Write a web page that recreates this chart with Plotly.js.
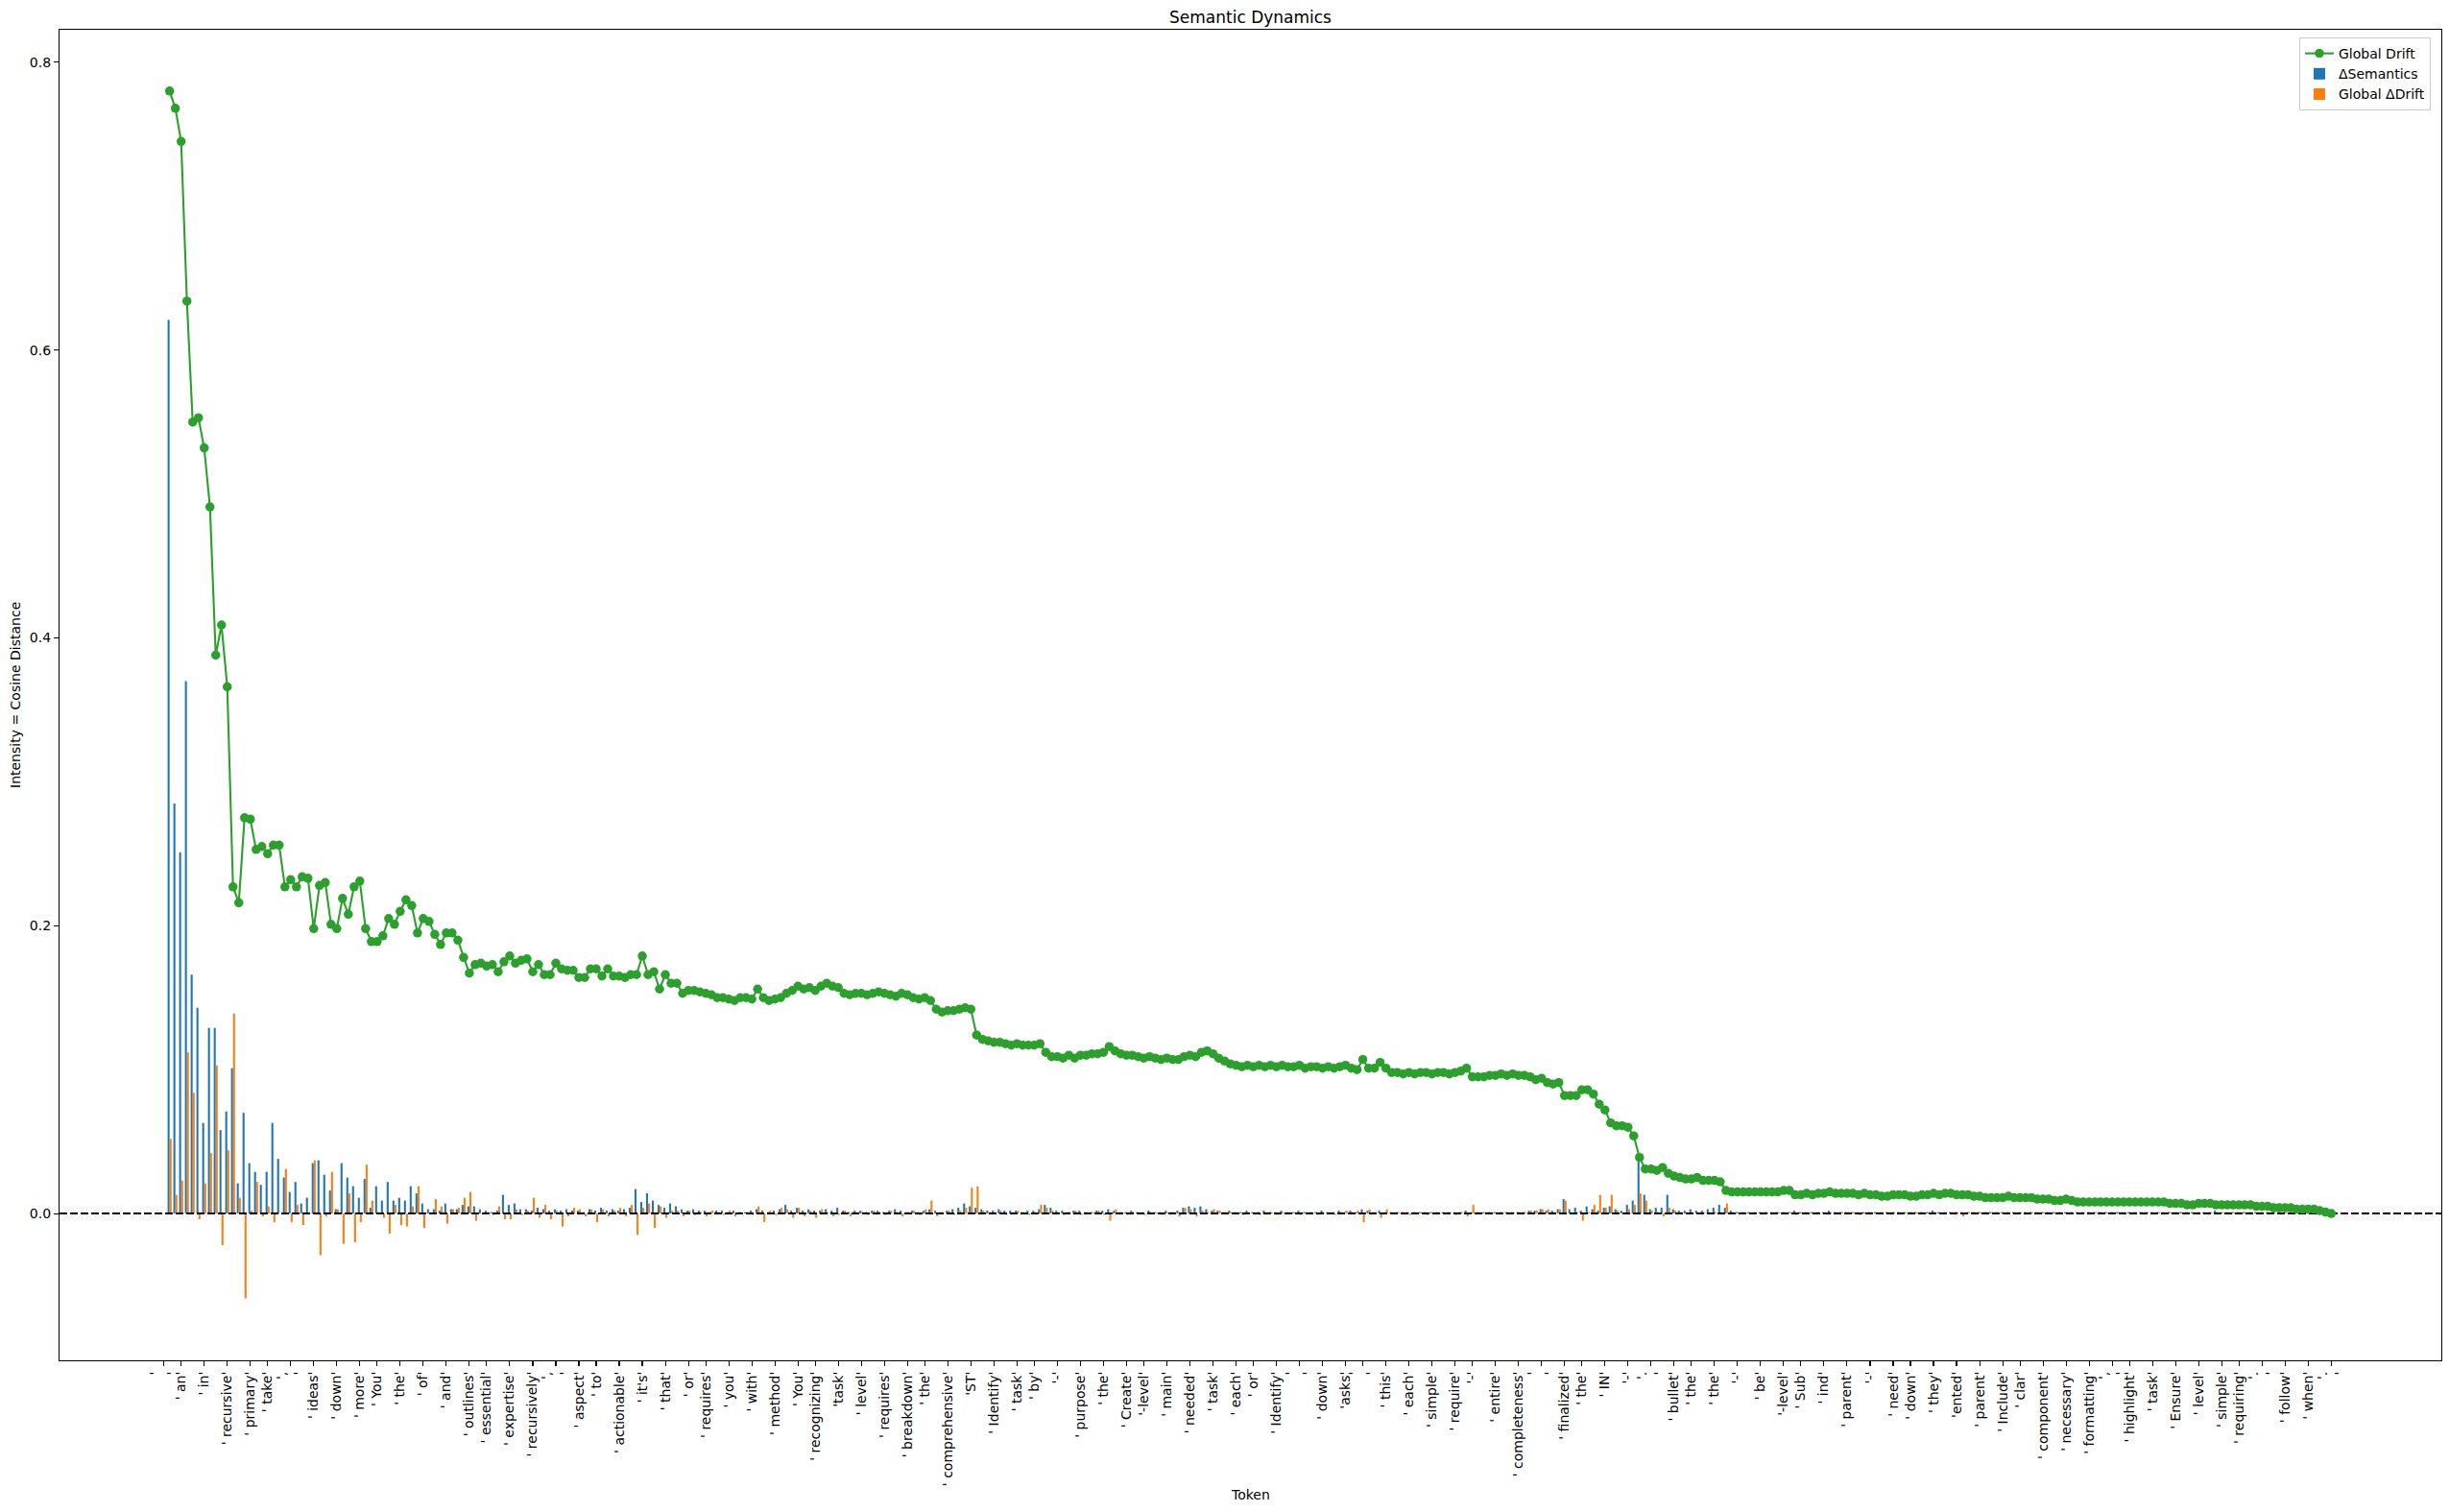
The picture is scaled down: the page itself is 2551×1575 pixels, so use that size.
<!DOCTYPE html>
<html><head><meta charset="utf-8">
<script src="https://cdn.plot.ly/plotly-3.0.1.min.js"></script>
<style>html,body{margin:0;padding:0;background:#fff}#chart{width:2551px;height:1575px}</style>
</head><body><div id="chart"></div>
<script>
// Tick labels (token strings, shown in quotes); "\n" renders as a second line
const tickLabels = ["\n"," an"," in"," recursive"," primary"," take",",\n"," ideas"," down"," more",
" You"," the"," of"," and"," outlines"," essential"," expertise"," recursively",",\n"," aspect",
" to"," actionable"," it's"," that"," or"," requires"," you"," with"," method"," You",
" recognizing","task"," level"," requires"," breakdown"," the"," comprehensive","ST"," Identify"," task",
" by","-"," purpose"," the"," Create","-level"," main"," needed"," task"," each",
" or"," Identify","\n"," down","asks","\n"," this"," each"," simple"," require",
"-"," entire"," completeness","\n"," finalized"," the"," IN","-",".\n"," bullet",
" the"," the","-"," be","-level"," Sub"," ind"," parent","-"," need",
" down"," they","ented"," parent"," Include"," clar"," component"," necessary"," formatting",",\n",
" highlight"," task"," Ensure"," level"," simple"," requiring",".\n"," follow"," when",".\n"];

const N_TOKENS = 377;

const globalDrift = [
0.780,0.768,0.745,0.634,0.550,0.553,0.532,0.491,0.388,0.409,0.366,0.227,0.216,0.275,0.274,0.253,0.255,0.250,0.256,0.256,
0.227,0.232,0.227,0.234,0.233,0.198,0.228,0.230,0.201,0.198,0.219,0.208,0.227,0.231,0.198,0.189,0.189,0.193,0.205,0.201,
0.210,0.218,0.214,0.195,0.205,0.203,0.194,0.187,0.195,0.195,0.190,0.178,0.167,0.173,0.174,0.172,0.173,0.168,0.175,0.179,
0.174,0.176,0.177,0.168,0.173,0.166,0.166,0.174,0.170,0.169,0.169,0.164,0.164,0.170,0.170,0.165,0.170,0.165,0.165,0.164,
0.166,0.166,0.179,0.166,0.168,0.156,0.166,0.160,0.160,0.153,0.155,0.155,0.154,0.153,0.152,0.150,0.150,0.149,0.148,0.150,
0.150,0.149,0.156,0.150,0.148,0.149,0.150,0.153,0.155,0.158,0.156,0.157,0.155,0.158,0.160,0.158,0.157,0.153,0.152,0.153,
0.153,0.152,0.153,0.154,0.153,0.152,0.151,0.153,0.152,0.150,0.149,0.150,0.148,0.142,0.140,0.141,0.141,0.142,0.143,0.142,
0.124,0.121,0.120,0.119,0.119,0.118,0.117,0.118,0.117,0.117,0.117,0.118,0.112,0.109,0.109,0.108,0.110,0.108,0.110,0.110,
0.111,0.111,0.112,0.116,0.113,0.111,0.110,0.110,0.109,0.108,0.109,0.108,0.107,0.108,0.107,0.107,0.109,0.110,0.109,0.112,
0.113,0.111,0.108,0.106,0.104,0.103,0.102,0.103,0.102,0.103,0.102,0.103,0.102,0.103,0.102,0.102,0.103,0.101,0.102,0.102,
0.101,0.102,0.101,0.102,0.103,0.101,0.100,0.107,0.101,0.101,0.105,0.101,0.098,0.098,0.097,0.098,0.097,0.098,0.098,0.097,
0.098,0.098,0.097,0.098,0.099,0.101,0.095,0.095,0.095,0.096,0.096,0.097,0.096,0.097,0.096,0.096,0.095,0.093,0.094,0.091,
0.090,0.091,0.082,0.082,0.082,0.086,0.086,0.083,0.076,0.072,0.063,0.061,0.061,0.060,0.054,0.039,0.031,0.031,0.030,0.032,
0.028,0.026,0.025,0.024,0.024,0.025,0.023,0.023,0.023,0.022,0.016,0.015,0.015,0.015,0.015,0.015,0.015,0.015,0.015,0.015,
0.016,0.016,0.013,0.013,0.014,0.013,0.014,0.014,0.015,0.014,0.014,0.014,0.014,0.013,0.014,0.013,0.013,0.012,0.012,0.013,
0.013,0.013,0.012,0.012,0.013,0.013,0.014,0.013,0.014,0.014,0.013,0.013,0.013,0.012,0.012,0.011,0.011,0.011,0.011,0.012,
0.011,0.011,0.011,0.011,0.010,0.010,0.010,0.009,0.009,0.010,0.009,0.008,0.008,0.008,0.008,0.008,0.008,0.008,0.008,0.008,
0.008,0.008,0.008,0.008,0.008,0.008,0.008,0.007,0.007,0.007,0.006,0.006,0.007,0.007,0.007,0.006,0.006,0.006,0.006,0.006,
0.006,0.006,0.005,0.005,0.005,0.004,0.004,0.004,0.004,0.003,0.003,0.003,0.003,0.002,0.001,0.000];

const deltaSemantics = [
0.621,0.285,0.251,0.370,0.166,0.143,0.063,0.129,0.129,0.058,0.071,0.101,0.021,0.070,0.035,0.029,0.020,0.029,0.063,0.038,
0.025,0.015,0.022,0.007,0.011,0.035,0.037,0.027,0.016,0.003,0.035,0.025,0.019,0.011,0.024,0.004,0.019,0.009,0.022,0.009,
0.011,0.009,0.019,0.014,0.007,0.003,0.003,0.002,0.007,0.003,0.003,0.006,0.005,0.005,0.003,0.002,0.001,0.002,0.013,0.006,
0.007,0.003,0.003,0.002,0.004,0.003,0.002,0.003,0.002,0.003,0.002,0.002,0.001,0.003,0.002,0.004,0.002,0.003,0.002,0.003,
0.004,0.017,0.008,0.014,0.009,0.006,0.004,0.007,0.005,0.003,0.002,0.003,0.002,0.002,0.001,0.002,0.002,0.001,0.002,0.001,
0.001,0.002,0.003,0.002,0.001,0.002,0.003,0.006,0.002,0.004,0.002,0.003,0.002,0.002,0.003,0.002,0.004,0.002,0.001,0.002,
0.002,0.001,0.002,0.002,0.001,0.002,0.003,0.002,0.001,0.002,0.001,0.002,0.003,0.002,0.001,0.002,0.003,0.004,0.007,0.005,
0.004,0.003,0.002,0.002,0.003,0.002,0.002,0.002,0.001,0.002,0.002,0.003,0.006,0.004,0.002,0.002,0.001,0.002,0.002,0.001,
0.001,0.002,0.002,0.003,0.002,0.001,0.001,0.002,0.001,0.001,0.002,0.001,0.001,0.002,0.001,0.002,0.004,0.005,0.004,0.005,
0.003,0.002,0.002,0.001,0.002,0.001,0.001,0.002,0.001,0.001,0.002,0.001,0.001,0.002,0.001,0.001,0.002,0.001,0.001,0.001,
0.002,0.001,0.001,0.002,0.001,0.002,0.001,0.003,0.002,0.001,0.002,0.001,0.001,0.001,0.001,0.001,0.001,0.001,0.001,0.001,
0.001,0.001,0.001,0.001,0.001,0.002,0.001,0.001,0.001,0.001,0.001,0.001,0.001,0.001,0.001,0.001,0.002,0.002,0.003,0.002,
0.002,0.003,0.010,0.003,0.004,0.002,0.005,0.003,0.002,0.004,0.005,0.003,0.002,0.006,0.009,0.036,0.013,0.003,0.004,0.004,
0.013,0.003,0.002,0.002,0.003,0.002,0.002,0.003,0.004,0.006,0.004,0.002,0.001,0.001,0.001,0.001,0.001,0.001,0.001,0.001,
0.001,0.001,0.002,0.001,0.001,0.001,0.001,0.001,0.002,0.001,0.001,0.001,0.001,0.001,0.001,0.001,0.001,0.001,0.001,0.001,
0.001,0.001,0.001,0.001,0.001,0.001,0.002,0.001,0.001,0.001,0.001,0.001,0.001,0.001,0.001,0.001,0.001,0.001,0.001,0.001,
0.001,0.001,0.001,0.001,0.001,0.001,0.001,0.001,0.001,0.001,0.001,0.001,0.001,0.001,0.001,0.001,0.001,0.001,0.001,0.001,
0.001,0.001,0.001,0.001,0.001,0.001,0.001,0.001,0.001,0.001,0.001,0.001,0.001,0.001,0.001,0.002,0.001,0.001,0.001,0.001,
0.001,0.001,0.001,0.001,0.001,0.001,0.001,0.001,0.001,0.001,0.001,0.001,0.001,0.001,0.001,0.001];

const globalDeltaDrift = [
0.052,0.013,0.023,0.112,0.084,-0.004,0.021,0.042,0.103,-0.022,0.044,0.139,0.011,-0.059,0.002,0.022,-0.002,0.005,-0.006,0.000,
0.031,-0.006,0.006,-0.008,0.000,0.037,-0.029,-0.002,0.029,0.003,-0.021,0.014,-0.020,-0.006,0.034,0.009,0.001,-0.003,-0.014,0.006,
-0.008,-0.009,0.005,0.019,-0.010,0.000,0.010,0.005,-0.007,0.003,0.004,0.011,0.015,-0.005,0.000,0.001,-0.001,0.005,-0.004,-0.004,
0.003,-0.001,0.002,0.011,-0.003,0.006,-0.004,0.002,-0.009,-0.002,0.004,0.003,-0.002,0.003,-0.006,0.003,-0.002,0.002,0.004,-0.002,
0.006,-0.015,0.004,0.007,-0.010,0.005,-0.003,0.002,0.002,-0.002,0.002,-0.001,0.001,-0.002,0.002,0.001,-0.001,0.002,-0.002,0.001,
0.001,-0.001,0.005,-0.006,0.002,-0.001,0.004,0.003,-0.003,0.004,-0.002,0.002,-0.003,0.003,0.001,-0.002,-0.001,0.002,-0.002,0.001,
0.001,-0.001,0.002,0.001,-0.001,0.002,0.001,-0.002,0.001,0.002,-0.001,0.003,0.009,-0.002,0.001,0.002,-0.001,0.002,0.004,0.018,
0.019,0.002,0.001,0.001,0.002,-0.001,0.001,0.002,0.001,-0.001,0.001,0.006,0.004,0.002,0.001,-0.001,0.001,0.002,-0.001,0.001,
0.001,0.002,-0.001,-0.005,0.003,0.001,-0.001,0.001,0.001,-0.001,0.001,0.001,-0.001,0.001,0.001,-0.002,0.004,0.003,-0.002,0.002,
0.001,0.003,0.002,0.001,0.001,0.001,-0.001,0.001,0.001,-0.001,0.001,0.001,-0.001,0.001,0.001,0.001,-0.001,0.001,0.001,-0.001,
0.001,0.001,-0.001,0.001,0.002,0.001,0.002,-0.006,0.003,0.001,-0.003,0.003,0.001,0.001,0.001,-0.001,0.001,0.001,-0.001,0.001,
0.001,0.001,0.001,-0.001,0.001,-0.002,0.006,0.001,0.001,0.001,0.001,0.001,0.001,0.001,0.001,0.001,0.002,0.002,0.003,0.003,
0.001,0.003,0.009,0.001,0.001,-0.005,0.001,0.006,0.013,0.004,0.013,0.002,0.001,0.003,0.006,0.014,0.009,0.002,0.001,-0.002,
0.004,0.002,0.001,0.001,0.001,0.001,0.001,0.001,0.001,0.001,0.007,0.001,0.001,0.001,0.001,0.001,0.001,0.001,0.001,0.001,
0.001,0.001,-0.001,0.001,0.001,0.001,0.001,0.001,0.001,0.001,0.001,0.001,0.001,-0.001,0.001,0.001,0.001,0.001,0.001,0.001,
0.001,0.001,0.001,0.001,0.001,0.001,0.001,0.001,0.001,0.001,0.001,-0.002,0.001,0.001,0.001,0.001,0.001,0.001,0.001,0.001,
0.001,0.001,0.001,0.001,0.001,0.001,0.001,0.001,0.001,0.001,0.001,0.001,0.001,0.001,0.001,0.001,0.001,0.001,0.001,0.001,
0.001,0.001,0.001,0.001,0.001,0.001,0.001,0.001,0.001,0.001,0.001,0.001,0.001,0.001,0.001,0.001,0.001,0.001,0.001,0.001,
0.001,0.001,0.001,0.001,0.001,0.001,0.001,0.001,0.001,0.001,0.001,0.001,0.001,0.001,0.001,0.001];

const yTicks = [0.0, 0.2, 0.4, 0.6, 0.8];

// token positions: data belongs to tokens 1..N-1
const xs = globalDrift.map((_, i) => i + 1);
const tickvals = tickLabels.map((_, k) => Math.floor(k * (N_TOKENS - 1) / (tickLabels.length - 1)));
const ticktext = tickLabels.map(t => ("'" + t + "'").replace(/\n/g, '<br>'));

const xRange = [-18.1, 395.1];
const yRange = [-0.102, 0.8226];
const BAR_W = 0.35;

const traces = [
  {type:'bar', x: xs, y: deltaSemantics, name:'ΔSemantics', width: BAR_W, offset: -BAR_W,
   marker:{color:'#1f77b4', line:{width:0}}, legendrank: 2},
  {type:'bar', x: xs, y: globalDeltaDrift, name:'Global ΔDrift', width: BAR_W, offset: 0,
   marker:{color:'#ff7f0e', line:{width:0}}, legendrank: 3},
  {type:'scatter', mode:'lines', x: xRange, y:[0,0], showlegend:false, hoverinfo:'skip',
   line:{color:'#000000', width:2, dash:'8px,3px'}},
  {type:'scatter', mode:'lines+markers', x: xs, y: globalDrift, name:'Global Drift',
   line:{color:'#2ca02c', width:2.1}, marker:{color:'#2ca02c', size:9.5}, legendrank: 1}
];

const L = 62, R = 2543, T = 31, B = 1417, W = 2551, H = 1575;
const layout = {
  width: W, height: H,
  margin: {l: L, r: W - R, t: T, b: H - B, pad: 0},
  paper_bgcolor:'#ffffff', plot_bgcolor:'#ffffff',
  font: {family:'DejaVu Sans, sans-serif', size:14, color:'#000000'},
  barmode:'overlay',
  showlegend: true,
  title: {text:'Semantic Dynamics', font:{size:17, color:'#000'}, xref:'paper', x:0.5, xanchor:'center',
          yref:'container', y: 1 - 18/H, yanchor:'middle'},
  xaxis: {range: xRange, tickmode:'array', tickvals: tickvals, ticktext: ticktext, tickangle: -90,
          ticks:'outside', ticklen:5, tickwidth:1.1, tickcolor:'#000', showline:true, linecolor:'#000',
          linewidth:1.1, mirror:true, showgrid:false, zeroline:false, tickfont:{size:14}, automargin:false},
  yaxis: {range: yRange, tickmode:'array', tickvals: yTicks, ticktext: yTicks.map(v => v.toFixed(1)),
          ticks:'outside', ticklen:5, tickwidth:1.1, tickcolor:'#000', showline:true, linecolor:'#000',
          linewidth:1.1, mirror:true, showgrid:false, zeroline:false, tickfont:{size:14}, automargin:false},
  legend: {x: 1 - 11/(R - L), xanchor:'right', y: 1 - 8/(B - T), yanchor:'top',
           bgcolor:'rgba(255,255,255,0.8)', bordercolor:'#cccccc', borderwidth:1, font:{size:14}},
  annotations: [
    {text:'Token', xref:'paper', yref:'paper', x:0.5, y: -(1557 - B)/(B - T), xanchor:'center', yanchor:'middle',
     showarrow:false, font:{size:14}},
    {text:'Intensity = Cosine Distance', xref:'paper', yref:'paper', x: -(L - 16)/(R - L), y:0.5,
     xanchor:'center', yanchor:'middle', textangle:-90, showarrow:false, font:{size:14}}
  ]
};

Plotly.newPlot('chart', traces, layout, {displayModeBar:false, staticPlot:true});
</script>
</body></html>
